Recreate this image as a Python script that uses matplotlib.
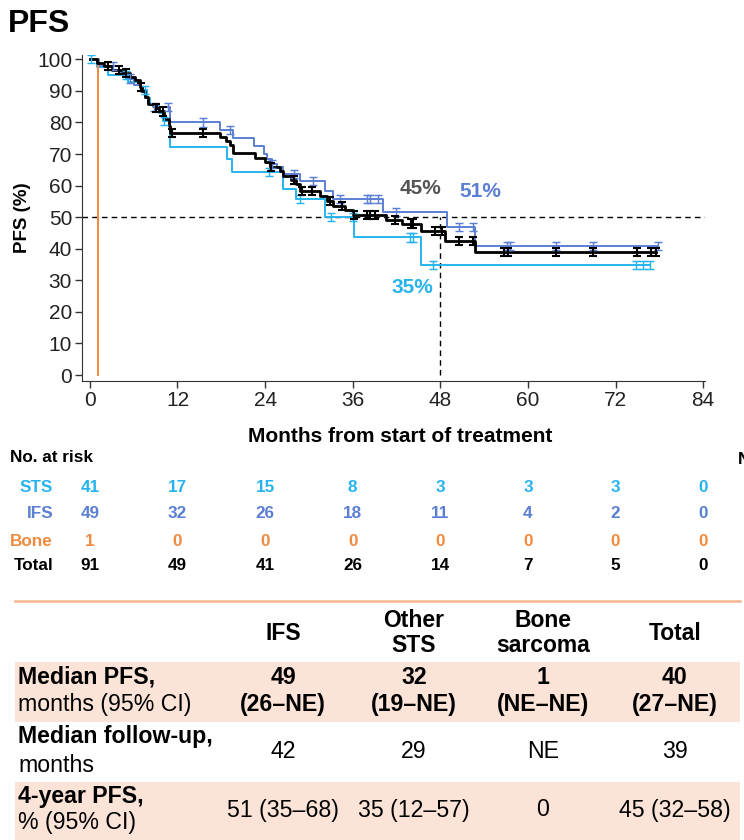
import matplotlib
matplotlib.use("Agg")
import matplotlib.pyplot as plt
import matplotlib.transforms as mtransforms
import numpy as np

plt.rcParams['font.family'] = ['Liberation Sans', 'DejaVu Sans']

# ---------------- DATA ---------------- #

# Kaplan-Meier steps (month of drop, PFS % after drop)
total_times = [0, 1.0, 2.0, 3.0, 4.5, 5.5, 6.2, 6.8, 7.2, 7.6, 8.0, 9.0, 9.5, 10.2, 10.8, 11.0,
               17.8, 18.6, 19.2, 19.6, 22.6, 24.0, 24.7, 26.0, 26.5, 27.5, 28.2, 28.8, 31.5,
               32.5, 33.3, 35.0, 36.0, 40.5, 42.8, 45.3, 48.7, 52.8]
total_surv = [100, 98.9, 97.8, 96.7, 95.6, 94.5, 93.4, 91.2, 90.1, 88.0, 85.8, 84.7, 83.5, 81.2, 78.9, 76.7,
              75.4, 74.1, 72.8, 70.2, 68.8, 67.4, 66.0, 64.6, 63.2, 61.8, 60.4, 58.3, 56.8,
              55.2, 53.6, 52.2, 50.8, 49.2, 48.0, 45.6, 42.4, 38.9]
total_censor = [2.5, 4.0, 5.0, 7.0, 9.0, 10.0, 11.2, 15.5, 24.8, 27.9, 29.0, 30.4, 32.9, 34.5, 36.2,
                38.0, 38.4, 39.1, 41.8, 44.0, 44.3, 47.3, 48.2, 50.6, 52.5, 56.7, 57.3, 63.8,
                68.9, 75.0, 76.8, 77.6]

ifs_times = [0, 1.2, 4.0, 5.0, 6.0, 7.0, 7.5, 8.0, 8.6, 11.0, 17.8, 19.6, 22.5, 23.8, 24.3, 25.0,
             25.6, 26.5, 28.8, 32.2, 33.3, 40.2, 48.9, 52.8]
ifs_surv = [100, 98.0, 95.9, 93.9, 91.8, 89.8, 87.8, 85.7, 85.0, 80.0, 77.6, 75.0, 72.5, 70.0, 68.4, 66.9,
            65.9, 63.7, 61.4, 58.2, 55.7, 51.6, 46.8, 40.8]
ifs_censor = [3.2, 5.5, 8.8, 10.7, 15.5, 19.2, 25.0, 27.9, 30.5, 34.3, 38.0, 38.4, 39.4, 42.0,
              50.5, 52.5, 57.2, 57.6, 63.8, 68.9, 77.8]

sts_times = [0, 1.0, 2.5, 5.2, 7.0, 7.8, 8.2, 9.5, 10.0, 11.0, 18.8, 19.5, 26.5, 28.3, 32.2, 36.2, 45.3]
sts_surv = [100, 97.6, 95.1, 92.7, 90.2, 87.8, 85.4, 82.9, 80.5, 72.3, 68.4, 64.3, 58.9, 55.7, 50.0, 43.6, 34.8]
sts_censor = [0.2, 5.0, 7.5, 10.2, 24.6, 28.8, 33.0, 36.0, 43.9, 44.3, 47.0, 74.8, 75.7, 76.7]

bone_times = [0, 1.1]
bone_surv = [100, 0]

# at-risk table
risk_months = [0, 12, 24, 36, 48, 60, 72, 84]
risk_labels = ["STS", "IFS", "Bone", "Total"]
risk_sts = [41, 17, 15, 8, 3, 3, 3, 0]
risk_ifs = [49, 32, 26, 18, 11, 4, 2, 0]
risk_bone = [1, 0, 0, 0, 0, 0, 0, 0]
risk_total = [91, 49, 41, 26, 14, 7, 5, 0]

# summary table
col_headers = ["IFS", "Other\nSTS", "Bone\nsarcoma", "Total"]
median_pfs = ["49", "32", "1", "40"]
median_pfs_ci = ["(26–NE)", "(19–NE)", "(NE–NE)", "(27–NE)"]
median_fu = ["42", "29", "NE", "39"]
pfs_4yr = ["51 (35–68)", "35 (12–57)", "0", "45 (32–58)"]

C_STS = "#27b4ee"
C_IFS = "#5b7fd3"
C_BONE = "#f08a3e"
C_TOT = "black"


def surv_at(times, surv, t):
    idx = np.searchsorted(times, t, side="right") - 1
    return np.asarray(surv)[idx]


def draw_km(ax, times, surv, censor, color, lw):
    end = max(censor) if censor else times[-1]
    xs = list(times) + [end]
    ys = list(surv) + [surv[-1]]
    ax.step(xs, ys, where="post", color=color, lw=lw, zorder=3)
    if censor:
        cy = surv_at(times, surv, censor)
        ax.errorbar(censor, cy, yerr=1.3, fmt="none", ecolor=color,
                    elinewidth=lw * 0.75, capsize=3.2, capthick=lw * 0.75, zorder=4)


# ---------------- FIGURE ---------------- #

fig = plt.figure(figsize=(7.44, 8.4), dpi=100)

# pixel-coordinate layer for the tables
tab = fig.add_axes([0, 0, 1, 1])
tab.set_xlim(0, 744)
tab.set_ylim(840, 0)
tab.axis("off")

ax = fig.add_axes([0.110, 0.546, 0.838, 0.389])
ax.patch.set_alpha(0)

draw_km(ax, sts_times, sts_surv, sts_censor, C_STS, 1.4)
draw_km(ax, ifs_times, ifs_surv, ifs_censor, C_IFS, 1.4)
ax.step(bone_times, bone_surv, where="post", color=C_BONE, lw=1.4, zorder=3)
draw_km(ax, total_times, total_surv, total_censor, C_TOT, 2.0)

ax.plot([-1.1, 84.3], [50, 50], color="black", lw=1, ls=(0, (4, 3)), zorder=2)
ax.plot([48, 48], [0, 50], color="black", lw=1, ls=(0, (4, 3)), zorder=2)

ax.text(45.3, 59.2, "45%", color="#555555", fontsize=15, fontweight="bold", ha="center", va="center")
ax.text(53.5, 58.0, "51%", color=C_IFS, fontsize=15, fontweight="bold", ha="center", va="center")
ax.text(44.2, 27.7, "35%", color=C_STS, fontsize=15, fontweight="bold", ha="center", va="center")

ax.set_xlim(-1.1, 84.3)
ax.set_ylim(-2, 101.5)
ax.set_xticks(risk_months)
ax.set_yticks(range(0, 101, 10))
ax.tick_params(labelsize=15, length=5, width=1, color="#333333", labelcolor="#222222", pad=2)
for s in ["top", "right"]:
    ax.spines[s].set_visible(False)
for s in ["left", "bottom"]:
    ax.spines[s].set_color("#333333")
ax.set_ylabel("PFS (%)", fontsize=13.5, fontweight="bold", labelpad=4)

fig.text(0.011, 0.972, "PFS", fontsize=23, fontweight="bold", ha="left", va="center")

# x-axis title
tab.text(400, 437, "Months from start of treatment", fontsize=15, fontweight="bold",
         ha="center", va="center")

# ---------------- AT-RISK TABLE ---------------- #
tab.text(10, 457, "No. at risk", fontsize=12.3, fontweight="bold", ha="left", va="center")
tab.text(738, 460, "N", fontsize=12.3, fontweight="bold", ha="left", va="center")

blend = mtransforms.blended_transform_factory(ax.transData, tab.transData)
risk_rows = [risk_sts, risk_ifs, risk_bone, risk_total]
risk_colors = [C_STS, C_IFS, C_BONE, C_TOT]
row_y = [487, 514, 541, 566]
for label, vals, col, y in zip(risk_labels, risk_rows, risk_colors, row_y):
    tab.text(53, y, label, color=col, fontsize=12.3, fontweight="bold", ha="right", va="center")
    for m, v in zip(risk_months, vals):
        ax.text(m, y, str(v), color=col, fontsize=12.3, fontweight="bold",
                ha="center", va="center", transform=blend, clip_on=False)

# ---------------- SUMMARY TABLE ---------------- #
tab.plot([15, 740], [601, 601], color="#f6b48f", lw=1.8)
shade = "#fbe3d7"
tab.add_patch(plt.Rectangle((15, 662), 725, 60, color=shade, lw=0, zorder=0))
tab.add_patch(plt.Rectangle((15, 782), 725, 58, color=shade, lw=0, zorder=0))

col_x = [283, 414, 543, 675]
for x, h in zip(col_x, col_headers):
    tab.text(x, 633, h, fontsize=16.5, fontweight="bold", ha="center", va="center", linespacing=1.15)

fs = 16.7
tab.text(18, 677, "Median PFS,", fontsize=fs, fontweight="bold", ha="left", va="center")
tab.text(18, 705, "months (95% CI)", fontsize=fs, ha="left", va="center")
tab.text(18, 737, "Median follow-up,", fontsize=fs, fontweight="bold", ha="left", va="center")
tab.text(18, 765, "months", fontsize=fs, ha="left", va="center")
tab.text(18, 797, "4-year PFS,", fontsize=fs, fontweight="bold", ha="left", va="center")
tab.text(18, 823, "% (95% CI)", fontsize=fs, ha="left", va="center")

for x, a, b, c, d in zip(col_x, median_pfs, median_pfs_ci, median_fu, pfs_4yr):
    tab.text(x, 677, a, fontsize=fs, fontweight="bold", ha="center", va="center")
    tab.text(x, 705, b, fontsize=fs, fontweight="bold", ha="center", va="center")
    tab.text(x, 752, c, fontsize=fs, ha="center", va="center")
    tab.text(x, 810, d, fontsize=fs, ha="center", va="center")

fig.savefig("out.png", dpi=100)
